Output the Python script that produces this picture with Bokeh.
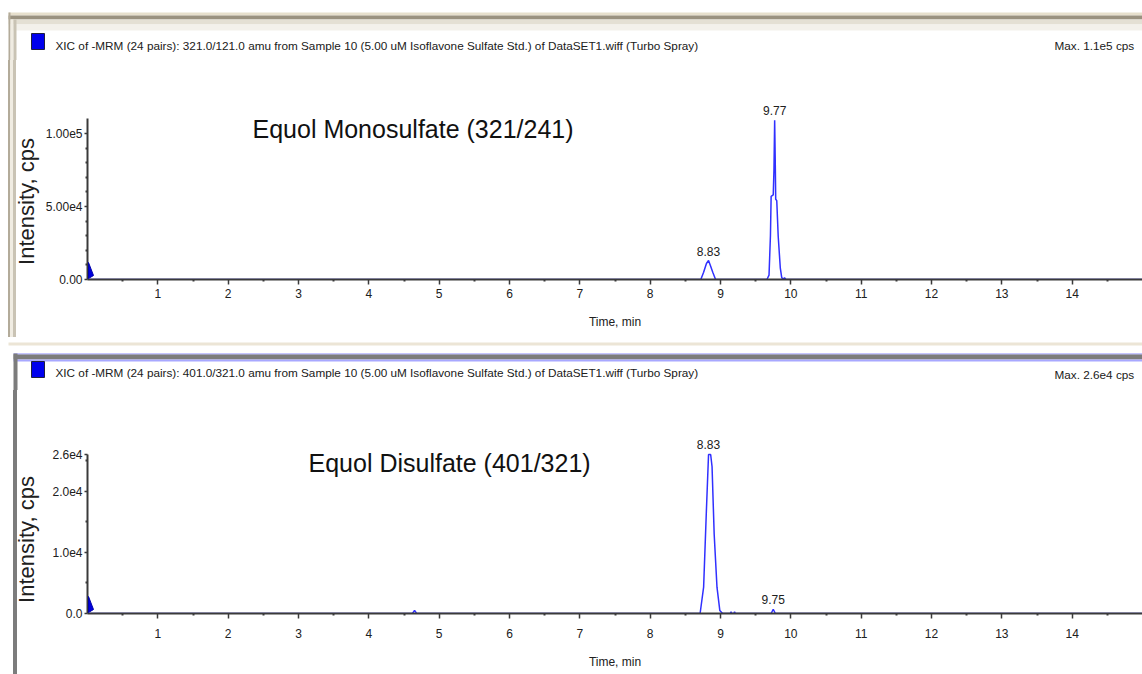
import math
from bokeh.plotting import figure
from bokeh.models import (FixedTicker, Label, LabelSet, PolyAnnotation,
                          ColumnDataSource, Range1d)
from bokeh.layouts import column, row
from bokeh.embed import file_html
from bokeh.resources import INLINE
from bokeh.core.properties import value

# ---------------- data ----------------
x_tick_values = [1, 2, 3, 4, 5, 6, 7, 8, 9, 10, 11, 12, 13, 14]
x_minor_values = [0.5, 1.5, 2.5, 3.5, 4.5, 5.5, 6.5, 7.5, 8.5, 9.5, 10.5, 11.5, 12.5, 13.5, 14.5]

mono_time = [0.0, 8.72, 8.76, 8.80, 8.83, 8.86, 8.89, 8.93, 9.66, 9.69, 9.71, 9.72,
             9.75, 9.76, 9.77, 9.78, 9.785, 9.80, 9.82, 9.85, 9.87, 9.89, 9.91, 9.93, 15.0]
mono_intensity = [0, 0, 5000, 11000, 13000, 9000, 5000, 0, 0, 3000, 30000, 57000,
                  58000, 75000, 109000, 75000, 55000, 54000, 30000, 8000, 1500, 0, 1200, 0, 0]
mono_peak_time = [8.83, 9.77]
mono_peak_height = [13000, 109000]
mono_peak_text = ["8.83", "9.77"]
mono_y_ticks = [0, 50000, 100000]
mono_y_labels = ["0.00", "5.00e4", "1.00e5"]
mono_y_minor = [10000, 20000, 30000, 40000, 60000, 70000, 80000, 90000]
mono_y_max = 110000

di_time = [0.0, 4.62, 4.65, 4.68, 8.71, 8.76, 8.80, 8.83, 8.86, 8.88, 8.91, 8.95, 8.99,
           9.03, 9.14, 9.15, 9.16, 9.19, 9.20, 9.21, 9.72, 9.75, 9.78, 15.0]
di_intensity = [0, 0, 500, 0, 0, 4300, 17000, 26000, 26000, 24000, 13000, 4300, 500,
                0, 0, 300, 0, 0, 300, 0, 0, 700, 0, 0]
di_peak_time = [8.83, 9.75]
di_peak_height = [26000, 700]
di_peak_text = ["8.83", "9.75"]
di_y_ticks = [0, 10000, 20000, 26000]
di_y_labels = ["0.0", "1.0e4", "2.0e4", "2.6e4"]
di_y_minor = [5000, 15000, 25000]
di_y_max = 26000

mono_title = ("XIC of -MRM (24 pairs): 321.0/121.0 amu from Sample 10 (5.00 uM Isoflavone "
              "Sulfate Std.) of DataSET1.wiff (Turbo Spray)")
di_title = ("XIC of -MRM (24 pairs): 401.0/321.0 amu from Sample 10 (5.00 uM Isoflavone "
            "Sulfate Std.) of DataSET1.wiff (Turbo Spray)")
mono_max = "Max. 1.1e5 cps"
di_max = "Max. 2.6e4 cps"
mono_name = "Equol Monosulfate (321/241)"
di_name = "Equol Disulfate (401/321)"
y_title = "Intensity, cps"

FONT = "Liberation Sans"
TRACE = "#3030ff"
AXIS = "#3a3a3a"
W = 1142
STRIP = 40


def deco_fig(width, height, x0, x1, y0, y1, **kw):
    """A plain drawing area whose coordinates are page pixels (y downwards)."""
    p = figure(width=width, height=height, output_backend="svg", toolbar_location=None,
               x_range=Range1d(x0, x1), y_range=Range1d(y1, y0),
               x_axis_type=None, y_axis_type=None, outline_line_color=None,
               background_fill_color="white", border_fill_color="white", **kw)
    p.grid.visible = False
    return p


def band(p, l, r, t, b, color):
    p.quad(left=l, right=r, top=t, bottom=b, fill_color=color, line_color=None)


def small_text(p, x, y, txt):
    p.add_layout(Label(x=x, y=y, text=txt, text_font=FONT, text_font_size="11.75px",
                       text_baseline="middle", text_color="#202020"))


def strip(height, top, frame_bottom, label_y, css):
    p = figure(width=STRIP, height=height, output_backend="svg", toolbar_location=None,
               x_range=Range1d(0, STRIP), y_range=Range1d(frame_bottom, top),
               x_axis_type=None, y_axis_type=None, outline_line_color=None,
               min_border_left=0, min_border_right=0, min_border_top=0,
               min_border_bottom=height - (frame_bottom - top),
               background_fill_alpha=0, border_fill_alpha=0,
               styles={"background": css})
    p.grid.visible = False
    p.add_layout(Label(x=26, y=label_y, text=y_title, angle=math.pi / 2,
                       text_font=FONT, text_font_size="22px", text_align="center",
                       text_baseline="middle", text_color="#202020"))
    return p


def chart(height, time, inten, ymax, yend, yticks, ylabels, yminor,
          pk_t, pk_h, pk_txt, tick_standoff, label_standoff, name, name_y):
    p = figure(width=W - STRIP, height=height, output_backend="svg", toolbar_location=None,
               x_range=Range1d(0, 15.0), y_range=Range1d(0, yend),
               min_border_left=87 - STRIP, min_border_right=0,
               min_border_top=0, min_border_bottom=61,
               background_fill_color="white", border_fill_color="white",
               outline_line_color=None)
    p.grid.visible = False
    p.line(time, inten, line_color=TRACE, line_width=1.5)

    src = ColumnDataSource(dict(x=pk_t, y=pk_h, t=pk_txt))
    p.add_layout(LabelSet(x="x", y="y", text="t", source=src, text_align="center",
                          text_baseline="bottom", y_offset=5, text_font=value(FONT),
                          text_font_size=value("12px"), text_color=value("#202020")))
    p.add_layout(PolyAnnotation(xs=[1, 1, 6], ys=[1, 17, 4], xs_units="screen",
                                ys_units="screen", fill_color="#0000dd", fill_alpha=1,
                                line_color="#0000aa", line_alpha=1))
    p.add_layout(Label(x=name[0], y=name_y, x_units="screen", y_units="screen",
                       text=name[1], text_font=FONT, text_font_size="25px",
                       text_baseline="middle", text_color="#111111"))

    xa = p.xaxis[0]
    xa.ticker = FixedTicker(ticks=x_tick_values, minor_ticks=x_minor_values)
    xa.axis_label = "Time, min"
    xa.axis_label_text_font = FONT
    xa.axis_label_text_font_size = "12px"
    xa.axis_label_standoff = label_standoff
    xa.major_label_standoff = tick_standoff
    xa.major_tick_in = 0
    xa.major_tick_out = 5
    xa.minor_tick_in = 0
    xa.minor_tick_out = 2
    xa.minor_tick_line_width = 2

    ya = p.yaxis[0]
    ya.bounds = (0, ymax)
    ya.ticker = FixedTicker(ticks=yticks, minor_ticks=yminor)
    ya.major_label_overrides = {v: s for v, s in zip(yticks, ylabels)}
    ya.major_label_standoff = 2
    ya.major_tick_in = 0
    ya.major_tick_out = 3
    ya.minor_tick_in = 0
    ya.minor_tick_out = 2
    ya.minor_tick_line_width = 2

    for a in (xa, ya):
        a.axis_label_text_font_style = "normal"
        a.axis_label_text_color = "#202020"
        a.axis_line_color = AXIS
        a.axis_line_width = 2
        a.major_tick_line_color = AXIS
        a.major_tick_line_width = 1.5
        a.minor_tick_line_color = AXIS
        a.major_label_text_font = FONT
        a.major_label_text_font_size = "12px"
        a.major_label_text_color = "#202020"
    return p


# ================= top panel (page y 0..340) =================
h1 = deco_fig(W, 60, 0, W, 0, 60, min_border=0)
band(h1, 8, W, 15, 12, "#e6dfcc")
band(h1, 8, W, 19, 15, "#9a9280")
band(h1, 8, W, 24, 19, "#e4e0d4")
band(h1, 8, W, 30, 24, "#f3f1eb")
band(h1, 8, 10, 60, 12, "#b3ab9a")
band(h1, 10, 13, 60, 19, "#f0ece2")
band(h1, 13, 16, 60, 19, "#c9c3b4")
h1.quad(left=31, right=44, top=33, bottom=49, fill_color="#0000ee", line_color="#202040")
small_text(h1, 55, 45, mono_title)
small_text(h1, 1054, 45, mono_max)

css1 = ("linear-gradient(to right, #ffffff 0px, #ffffff 8px, #b3ab9a 8px, #b3ab9a 10px, "
        "#f0ece2 10px, #f0ece2 13px, #c9c3b4 13px, #c9c3b4 16px, #ffffff 16px) "
        "0 0 / 100% 277px no-repeat, #ffffff")
s1 = strip(280, 60, 279, 201, css1)
c1 = chart(280, mono_time, mono_intensity, mono_y_max, 150000, mono_y_ticks,
           mono_y_labels, mono_y_minor, mono_peak_time, mono_peak_height, mono_peak_text,
           4, 14, (165, mono_name), 151)

# ================= bottom panel (page y 340..674) =================
h2 = deco_fig(W, 50, 0, W, 0, 50, min_border=0)
band(h2, 8, W, 5, 2, "#ece5d6")
band(h2, 13, W, 14, 13, "#8c8cff")
band(h2, 13, W, 19, 14, "#7c7c7c")
band(h2, 13, W, 21, 19, "#a8a8ff")
band(h2, 13, 17, 50, 13, "#7c7c7c")
h2.quad(left=31, right=44, top=21, bottom=37, fill_color="#0000ee", line_color="#202040")
small_text(h2, 55, 32, di_title)
small_text(h2, 1054, 34, di_max)

css2 = ("linear-gradient(to right, #ffffff 0px, #ffffff 13px, #7c7c7c 13px, #7c7c7c 17px, "
        "#ffffff 17px)")
s2 = strip(284, 390, 613, 539, css2)
c2 = chart(284, di_time, di_intensity, di_y_max, 36465, di_y_ticks,
           di_y_labels, di_y_minor, di_peak_time, di_peak_height, di_peak_text,
           10, 14, (221, di_name), 151)

layout = column(h1, row(s1, c1, spacing=0), h2, row(s2, c2, spacing=0), spacing=0)
open("out.html", "w").write(file_html(layout, INLINE))
